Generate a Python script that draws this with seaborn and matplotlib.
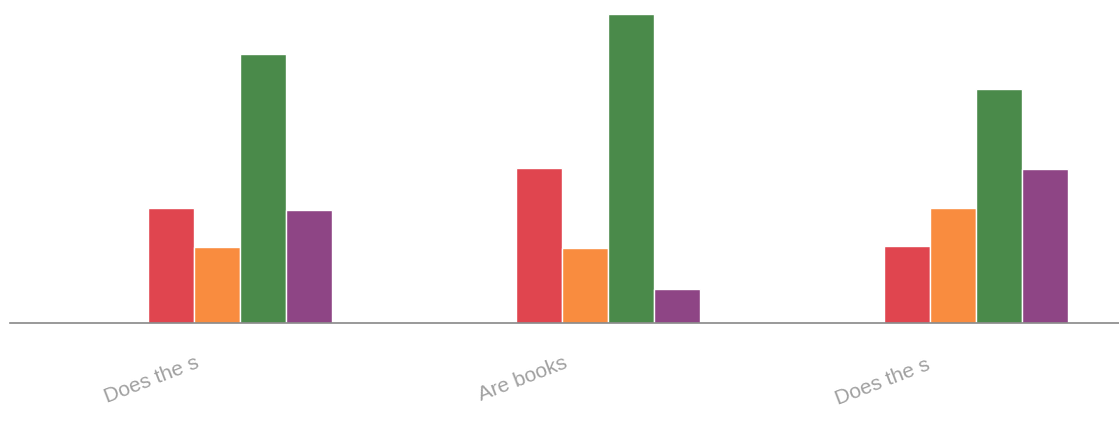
import matplotlib
matplotlib.use("Agg")
import matplotlib.pyplot as plt
import matplotlib.transforms as mtransforms
import pandas as pd
import seaborn as sns

# categories and series values
categories = ["Does the s", "Are books", "Does the s "]
series_names = ["A", "B", "C", "D"]
values_a = [115, 155, 77]
values_b = [76, 75, 115]
values_c = [270, 310, 234]
values_d = [113, 34, 154]
colors = ["#e0454f", "#f98c3f", "#4a8a4a", "#8e4585"]

rows = []
for name, vals in zip(series_names, [values_a, values_b, values_c, values_d]):
    for cat, v in zip(categories, vals):
        rows.append({"cat": cat, "series": name, "value": v})
df = pd.DataFrame(rows)

sns.set_style("white")
plt.rcParams["font.family"] = ["Liberation Sans", "DejaVu Sans"]
fig = plt.figure(figsize=(11.19, 4.21), dpi=100)
ax = fig.add_axes([0.009, 0.233, 0.991, 0.744])

sns.barplot(data=df, x="cat", y="value", hue="series", order=categories,
            palette=colors, saturation=1, width=0.5, edgecolor="white",
            linewidth=1, legend=False, ax=ax)

ax.set_xlim(-0.625, 2.39)
ax.set_ylim(0, 314)
ax.set_xlabel("")
ax.set_ylabel("")
ax.set_yticks([])
ax.tick_params(axis="x", length=0, pad=22)
for s in ["top", "right", "left"]:
    ax.spines[s].set_visible(False)
ax.spines["bottom"].set_color("#888888")
ax.spines["bottom"].set_linewidth(1.2)

offset = mtransforms.ScaledTranslation(-0.38, 0, fig.dpi_scale_trans)
for lbl in ax.get_xticklabels():
    lbl.set_rotation(21)
    lbl.set_ha("right")
    lbl.set_color("#a0a0a0")
    lbl.set_fontsize(15)
    lbl.set_transform(lbl.get_transform() + offset)

fig.savefig("out.png", dpi=100)
